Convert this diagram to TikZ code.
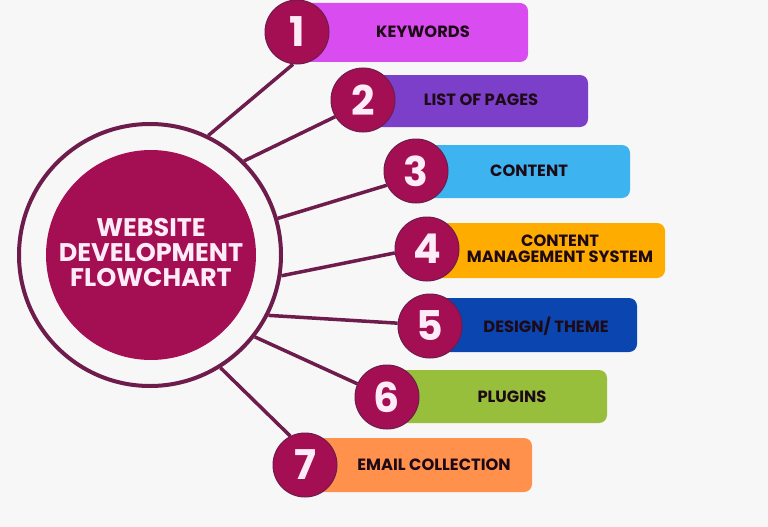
\documentclass[tikz,border=0pt]{standalone}
\usepackage{fontspec}
\setmainfont{Poppins}
\definecolor{bg}{HTML}{F7F7F7}
\definecolor{ringc}{HTML}{6E1C4C}
\definecolor{core}{HTML}{A30F52}
\definecolor{digit}{HTML}{FDEBF7}
\definecolor{labc}{HTML}{1E0A16}
\definecolor{b1}{HTML}{D94CF0}
\definecolor{b2}{HTML}{7B3FCA}
\definecolor{b3}{HTML}{3DB4F0}
\definecolor{b4}{HTML}{FFAC00}
\definecolor{b5}{HTML}{0B46B0}
\definecolor{b6}{HTML}{98BF3B}
\definecolor{b7}{HTML}{FF914C}
\begin{document}
\begin{tikzpicture}[x=1pt,y=-1pt,
  link/.style={draw=ringc,line width=3.5pt},
  numc/.style={circle,fill=core,draw=ringc,line width=1pt,minimum size=64pt,inner sep=0pt,text=digit,font=\fontsize{41}{41}\selectfont\bfseries},
  barbox/.style={rounded corners=8pt},
  lab/.style={text=labc,font=\fontsize{16.3}{16}\selectfont\bfseries,align=center,inner sep=0pt}]
\useasboundingbox[fill=bg] (0,0) rectangle (768,527);
% centre
\node[circle,draw=ringc,line width=4pt,minimum size=262pt,inner sep=0pt] (outer) at (150,255) {};
\node[circle,fill=core,minimum size=210pt,inner sep=0pt] (core) at (151,255) {};
\node[text=digit,font=\fontsize{25.5}{25}\selectfont\bfseries,align=center] (title) at (151,253) {WEBSITE\\DEVELOPMENT\\FLOWCHART};
% bars
\fill[barbox,b1] (297,3) rectangle (528,62);
\fill[barbox,b2] (363,75) rectangle (588,127);
\fill[barbox,b3] (416,145) rectangle (630,198);
\fill[barbox,b4] (427,223) rectangle (665,278);
\fill[barbox,b5] (430,298) rectangle (637,352);
\fill[barbox,b6] (387,370) rectangle (607,423);
\fill[barbox,b7] (305,438) rectangle (532,492);
% labels
\node[lab] (l1) at (423,32) {KEYWORDS};
\node[lab] (l2) at (481,100) {LIST OF PAGES};
\node[lab] (l3) at (529,171) {CONTENT};
\node[lab] (l4) at (560,249) {CONTENT\\MANAGEMENT SYSTEM};
\node[lab] (l5) at (546,326) {DESIGN/ THEME};
\node[lab] (l6) at (512,397) {PLUGINS};
\node[lab] (l7) at (434,465) {EMAIL COLLECTION};
% number circles
\node[numc] (n1) at (297,32) {1};
\node[numc] (n2) at (363,100) {2};
\node[numc] (n3) at (416,171) {3};
\node[numc] (n4) at (427,249) {4};
\node[numc] (n5) at (430,326) {5};
\node[numc] (n6) at (387,397) {6};
\node[numc] (n7) at (305,465) {7};
% connectors
\draw[link] (outer.64) -- (n1.-97);
\draw[link] (outer.45) -- (n2.-149);
\draw[link] (outer.16.5) -- (n3.-154);
\draw[link] (outer.-9.5) -- (n4.-173);
\draw[link] (outer.-27.3) -- (n5.175);
\draw[link] (outer.-38) -- (n6.156);
\draw[link] (outer.-58.7) -- (n7.117);
\end{tikzpicture}
\end{document}
